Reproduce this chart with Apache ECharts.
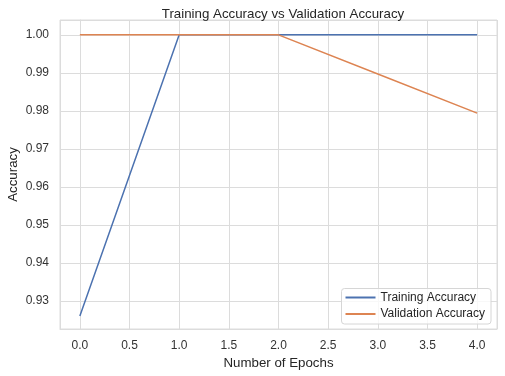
<!DOCTYPE html>
<html>
<head>
<meta charset="utf-8">
<script src="https://cdn.jsdelivr.net/npm/echarts@6/dist/echarts.min.js"></script>
<style>
  html, body { margin: 0; padding: 0; background: #fff; }
  #chart { width: 505px; height: 376px; }
</style>
</head>
<body>
<div id="chart"></div>
<script>
// Training vs validation accuracy per epoch
const epochs = [0, 1, 2, 3, 4]
const trainingAcc = [0.926, 1.0, 1.0, 1.0, 1.0]
const validationAcc = [1.0, 1.0, 1.0, 0.9897, 0.9794]

const FONT = '"Liberation Sans", Arial, sans-serif'
const GRID = '#dcdcdc'

const chart = echarts.init(document.getElementById('chart'), null, { renderer: 'canvas' })

chart.setOption({
  backgroundColor: '#fff',
  animation: false,
  textStyle: { fontFamily: FONT },
  title: {
    text: 'Training Accuracy vs Validation Accuracy',
    left: 278, textAlign: 'center', top: 3,
    textStyle: { fontFamily: FONT, fontSize: 13.3, fontWeight: 'normal', color: '#262626' },
  },
  grid: {
    left: 60, right: 8, top: 20, bottom: 47,
    outerBoundsMode: 'none',
    show: true, borderColor: GRID, borderWidth: 1, backgroundColor: '#fff',
  },
  legend: {
    orient: 'vertical',
    right: 14, bottom: 52,
    icon: 'rect', itemWidth: 30, itemHeight: 2, itemGap: 4.5,
    padding: [3, 6, 4, 4],
    backgroundColor: 'rgba(255,255,255,0.8)',
    borderColor: '#d6d6d6', borderWidth: 1, borderRadius: 3,
    textStyle: { fontFamily: FONT, fontSize: 12, color: '#262626' },
    data: ['Training Accuracy', 'Validation Accuracy'],
  },
  xAxis: {
    type: 'value',
    min: -0.2, max: 4.2, splitNumber: 9,
    name: 'Number of Epochs', nameLocation: 'middle', nameGap: 23,
    nameTextStyle: { fontFamily: FONT, fontSize: 13.3, color: '#262626' },
    axisLine: { lineStyle: { color: GRID } },
    axisTick: { show: false },
    axisLabel: {
      showMinLabel: false, showMaxLabel: false, margin: 11,
      fontFamily: FONT, fontSize: 12, color: '#333',
      formatter: (v) => v.toFixed(1),
    },
    splitLine: { lineStyle: { color: GRID, width: 1 } },
  },
  yAxis: {
    type: 'value',
    min: 0.9226, max: 1.0039, splitNumber: 8,
    name: 'Accuracy', nameLocation: 'middle', nameGap: 40, nameMoveOverlap: false,
    nameTextStyle: { fontFamily: FONT, fontSize: 13.3, color: '#262626' },
    axisLine: { show: true, lineStyle: { color: GRID } },
    axisTick: { show: false },
    axisLabel: {
      showMinLabel: false, showMaxLabel: false, margin: 11,
      fontFamily: FONT, fontSize: 12, color: '#333',
      formatter: (v) => v.toFixed(2),
    },
    splitLine: { lineStyle: { color: GRID, width: 1 } },
  },
  series: [
    {
      name: 'Training Accuracy',
      type: 'line',
      data: epochs.map((e, i) => [e, trainingAcc[i]]),
      symbol: 'none',
      color: '#4c72b0',
      lineStyle: { width: 1.5, color: '#4c72b0' },
    },
    {
      name: 'Validation Accuracy',
      type: 'line',
      data: epochs.map((e, i) => [e, validationAcc[i]]),
      symbol: 'none',
      color: '#dd8452',
      lineStyle: { width: 1.5, color: '#dd8452' },
    },
  ],
})
</script>
</body>
</html>
